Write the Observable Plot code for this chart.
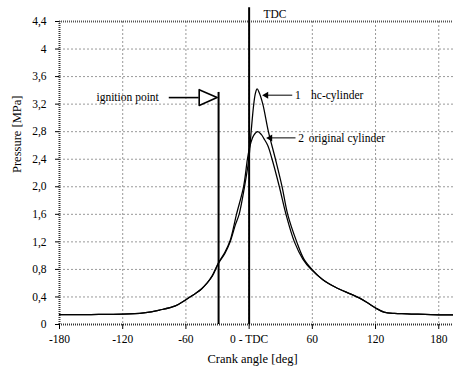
<!DOCTYPE html>
<html><head><meta charset="utf-8">
<script src="https://cdn.jsdelivr.net/npm/d3@7"></script>
<script src="https://cdn.jsdelivr.net/npm/@observablehq/plot@0.6"></script>
<style>body{margin:0;background:#fff} svg text{font-family:"Liberation Serif","Times New Roman",serif !important}</style>
</head><body><div id="chart"></div>
<script>
// Crank angle [deg] and pressure [MPa]
const hcAngle = [-180,-150,-120,-100,-85,-70,-60,-50,-45,-40,-35,-29,-23,-18,-13,-9.5,-4.4,-0.3,1.9,4.4,6,7.6,9.5,13,18.3,25,31.3,36.6,45.2,52,59.7,70,82,96,104,112,120,128,138,150,180,194];
const hcPressure = [0.145,0.145,0.15,0.17,0.21,0.27,0.36,0.46,0.52,0.6,0.7,0.89,1.03,1.2,1.45,1.6,2.0,2.4,2.8,3.2,3.36,3.42,3.37,3.2,2.8,2.4,2.0,1.6,1.2,0.95,0.8,0.65,0.54,0.445,0.39,0.32,0.24,0.18,0.16,0.155,0.14,0.14];
const origAngle = [-180,-150,-120,-100,-85,-70,-60,-50,-45,-40,-35,-29,-23,-18,-12,-5.3,-1.6,0.9,4.5,8.2,11.5,14,17.7,21.8,28.7,35,43,51,58.8,70,82,96,104,112,120,128,138,150,180,194];
const origPressure = [0.145,0.145,0.15,0.17,0.21,0.27,0.36,0.46,0.52,0.6,0.71,0.9,1.05,1.22,1.6,2.0,2.4,2.6,2.75,2.8,2.76,2.7,2.6,2.4,2.0,1.6,1.2,0.95,0.8,0.65,0.54,0.445,0.39,0.32,0.24,0.18,0.16,0.155,0.14,0.14];

const xTicks = [-180,-120,-60,0,60,120,180];
const xTickLabels = ["-180","-120","-60","0 - TDC","60","120","180"];
const yTicks = [0,0.4,0.8,1.2,1.6,2.0,2.4,2.8,3.2,3.6,4.0,4.4];
const yTickLabels = ["0","0,4","0,8","1,2","1,6","2,0","2,4","2,8","3,2","3,6","4","4,4"];

// annotations (data coordinates)
const tdcAngle = 0, tdcTop = 4.6;
const ignitionAngle = -29, ignitionTop = 3.37;
const ignArrowX = [-75.8, -47.4], ignArrowY = 3.295;
const ignTriX = [-47.4, -47.4, -30.4, -47.4], ignTriY = [3.41, 3.18, 3.295, 3.41];
const arrow1X = [41.4, 16.5], arrow1Y = 3.33;
const arrow2X = [44.5, 20.3], arrow2Y = 2.71;
const headX = [16.2, 20.0], headY = [3.33, 2.71];
const midLabels = [{x: 46.2, y: 3.33, t: "1"}, {x: 49.3, y: 2.71, t: "2"}, {x: 24.6, y: 4.5, t: "TDC"}];
const startLabels = [{x: 58.8, y: 3.33, t: "hc-cylinder"}, {x: 56.6, y: 2.71, t: "original cylinder"}, {x: -144.9, y: 3.295, t: "ignition point"}];

const hc = hcAngle.map((a, i) => ({a, p: hcPressure[i]}));
const orig = origAngle.map((a, i) => ({a, p: origPressure[i]}));
const tri = ignTriX.map((x, i) => ({x, y: ignTriY[i]}));

const chart = Plot.plot({
  width: 453, height: 371,
  marginLeft: 59, marginRight: 0, marginTop: 21, marginBottom: 47,
  x: {domain: [-180, 194], label: null},
  y: {domain: [0, 4.4], label: null},
  style: {fontFamily: "Liberation Serif", fontSize: "11px", background: "white", color: "black", overflow: "visible"},
  marks: [
    Plot.gridX(xTicks.filter(d => d !== -180), {stroke: "#999", strokeOpacity: 1, strokeDasharray: "2,2"}),
    Plot.gridY(yTicks.filter(d => d !== 0 && d !== 4.4), {stroke: "#999", strokeOpacity: 1, strokeDasharray: "2,2"}),
    Plot.ruleY([4.4], {stroke: "#555", strokeWidth: 2, strokeDasharray: "1,1"}),
    Plot.ruleY([0], {stroke: "#333", strokeWidth: 2, strokeDasharray: "1,1"}),
    Plot.ruleX([-180], {stroke: "#333", strokeWidth: 2, strokeDasharray: "1,1"}),
    Plot.axisX(xTicks, {tickSize: 5, tickPadding: 5, tickFormat: d => xTickLabels[xTicks.indexOf(d)], label: null, fontSize: 11.5}),
    Plot.axisY(yTicks, {tickSize: 4, tickPadding: 9, tickFormat: d => yTickLabels[yTicks.indexOf(d)], label: null, fontSize: 11.5}),
    Plot.line(orig, {x: "a", y: "p", curve: "catmull-rom", stroke: "black", strokeWidth: 1.25}),
    Plot.line(hc, {x: "a", y: "p", curve: "catmull-rom", stroke: "black", strokeWidth: 1.25}),
    Plot.ruleX([tdcAngle], {y1: 0, y2: tdcTop, stroke: "black", strokeWidth: 2}),
    Plot.ruleX([ignitionAngle], {y1: 0, y2: ignitionTop, stroke: "black", strokeWidth: 2}),
    Plot.ruleY([ignArrowY], {x1: ignArrowX[0], x2: ignArrowX[1], stroke: "black", strokeWidth: 1.6}),
    Plot.line(tri, {x: "x", y: "y", fill: "white", stroke: "black", strokeWidth: 1.6}),
    Plot.ruleY([arrow1Y], {x1: arrow1X[0], x2: arrow1X[1], stroke: "black", strokeWidth: 1}),
    Plot.ruleY([arrow2Y], {x1: arrow2X[0], x2: arrow2X[1], stroke: "black", strokeWidth: 1}),
    Plot.dot(headX.map((x, i) => ({x, y: headY[i]})), {x: "x", y: "y", symbol: "triangle", rotate: -90, r: 2.6, fill: "black", stroke: "none"}),
    Plot.text(midLabels, {x: "x", y: "y", text: "t", textAnchor: "middle", fill: "black", fontSize: 11.5}),
    Plot.text(startLabels, {x: "x", y: "y", text: "t", textAnchor: "start", fill: "black", fontSize: 11.5}),
    Plot.text(["Crank angle [deg]"], {frameAnchor: "bottom", dx: -4, dy: 38, fontSize: 12.5, fill: "black"}),
    Plot.text(["Pressure [MPa]"], {frameAnchor: "left", dx: -43, rotate: -90, fontSize: 12.5, fill: "black"})
  ]
});
document.getElementById("chart").append(chart);
</script>
</body></html>
